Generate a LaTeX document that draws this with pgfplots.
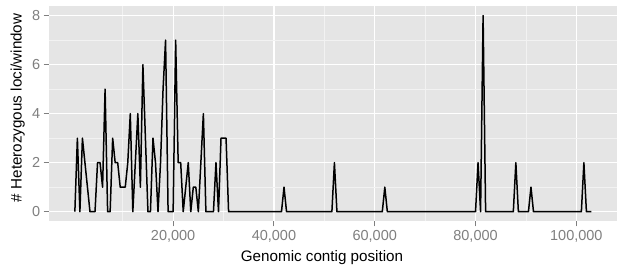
\documentclass[border=0pt]{standalone}
\usepackage{fontspec}
\setmainfont{Liberation Sans}
\usepackage{pgfplots}
\pgfplotsset{compat=1.18}
\definecolor{panelgrey}{HTML}{E5E5E5}
\definecolor{minorgrid}{HTML}{F2F2F2}
\definecolor{tickgrey}{HTML}{7F7F7F}

\begin{document}
\begin{tikzpicture}
\begin{axis}[
    width=568.6pt, height=215.7pt,
    scale only axis,
    xmin=-4690, xmax=108130,
    ymin=-0.4, ymax=8.4,
    axis background/.style={fill=panelgrey},
    axis line style={draw=none},
    scaled x ticks=false,
    xtick={20000,40000,60000,80000,100000},
    xticklabels={{20,000},{40,000},{60,000},{80,000},{100,000}},
    minor xtick={10000,30000,50000,70000,90000},
    ytick={0,2,4,6,8},
    minor ytick={1,3,5,7},
    grid=both,
    major grid style={white, line width=1.2pt},
    minor grid style={minorgrid, line width=0.6pt},
    tick align=outside,
    tick pos=left,
    major tick length=5pt,
    minor tick length=0pt,
    tick style={tickgrey, line width=0.9pt},
    ticklabel style={font=\fontsize{14.5}{16}\selectfont, text=tickgrey},
    /pgf/number format/assume math mode=true,
    xlabel={Genomic contig position},
    ylabel={\# Heterozygous loci/window},
    xlabel style={font=\fontsize{15.2}{17}\selectfont,
        at={([yshift=-40pt]axis description cs:0.4807,0)}, anchor=base},
    ylabel style={font=\fontsize{15.2}{17}\selectfont,
        at={([xshift=-27pt]axis description cs:0,0.527)}, anchor=base},
]
\addplot[black, line width=1.5pt, line join=round] coordinates {
    (500,0) (1000,3) (1500,0) (2000,3) (2500,2) (3000,1) (3500,0) (4000,0)
    (4500,0) (5000,2) (5500,2) (6000,1) (6500,5) (7000,0) (7500,0) (8000,3)
    (8500,2) (9000,2) (9500,1) (10000,1) (10500,1) (11000,2) (11500,4) (12000,0)
    (12500,2) (13000,4) (13500,1) (14000,6) (14500,3) (15000,0) (15500,0) (16000,3)
    (16500,2) (17000,0) (17500,2) (18000,5) (18500,7) (19000,0) (19500,0) (20000,0)
    (20500,7) (21000,2) (21500,2) (22000,0) (22500,1) (23000,2) (23500,0) (24000,1)
    (24500,1) (25000,0) (25500,2) (26000,4) (26500,0) (27000,0) (27500,0) (28000,0)
    (28500,2) (29000,0) (29500,3) (30000,3) (30500,3) (31000,0)
    (41500,0) (42000,1) (42500,0)
    (51500,0) (52000,2) (52500,0)
    (61500,0) (62000,1) (62500,0)
    (80000,0) (80500,2) (81000,0) (81500,8) (82000,0)
    (87500,0) (88000,2) (88500,0)
    (90500,0) (91000,1) (91500,0)
    (101000,0) (101500,2) (102000,0) (103000,0)
};
\coordinate (SW) at (rel axis cs:0,0);
\coordinate (NE) at (rel axis cs:1,1);
\end{axis}
\pgfresetboundingbox
\path ([xshift=-48.7pt,yshift=-45.5pt]SW) rectangle ([xshift=5.7pt,yshift=5.8pt]NE);
\end{tikzpicture}
\end{document}
